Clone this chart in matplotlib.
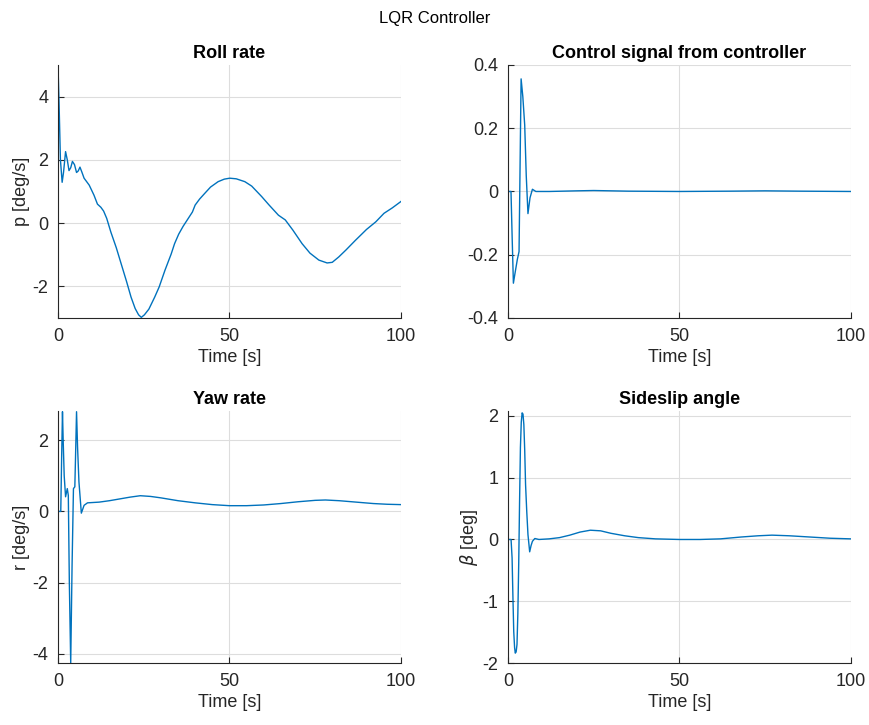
import numpy as np
import matplotlib.pyplot as plt

plt.rcParams['font.family'] = ['Liberation Sans', 'DejaVu Sans']
plt.rcParams['mathtext.fontset'] = 'dejavusans'

# roll rate p [deg/s]
t_p = [0, 0.3, 0.7, 1.2, 1.6, 2.2, 2.7, 3.2, 3.7, 4.2, 4.8, 5.4, 5.9, 6.4, 7.0, 7.6,
       9.1, 10.5, 11.5, 12.5, 13.3, 14.2, 15.4, 17.0, 18.4, 20.0, 21.3, 22.5, 23.5,
       24.3, 25.2, 26.5, 28.2, 29.5, 31.2, 33.0, 34.0, 35.2, 36.5, 38.0, 39.2, 40.0,
       41.3, 42.8, 44.5, 46.7, 48.5, 50.1, 52.0, 54.5, 56.5, 59.4, 61.5, 64.3, 66.3,
       68.5, 71.2, 73.5, 76.1, 78.5, 80.0, 81.9, 84.0, 86.8, 88.5, 90.0, 92.7, 95.1,
       97.5, 100]
p = [4.95, 3.8, 2.0, 1.29, 1.6, 2.26, 2.0, 1.66, 1.75, 1.95, 1.85, 1.6, 1.65, 1.77,
     1.6, 1.42, 1.2, 0.88, 0.6, 0.5, 0.38, 0.15, -0.28, -0.78, -1.28, -1.85, -2.34,
     -2.7, -2.9, -2.98, -2.9, -2.72, -2.34, -2.02, -1.49, -0.98, -0.65, -0.35, -0.1,
     0.15, 0.35, 0.57, 0.76, 0.94, 1.14, 1.31, 1.39, 1.42, 1.4, 1.31, 1.17, 0.84,
     0.58, 0.25, 0.1, -0.22, -0.65, -0.95, -1.17, -1.26, -1.24, -1.07, -0.85, -0.54,
     -0.36, -0.2, 0.04, 0.31, 0.48, 0.68]

# control signal
t_u = [0, 0.85, 1.2, 1.55, 2.0, 2.7, 3.2, 3.8, 4.3, 4.85, 5.3, 5.8, 6.4, 7.1, 8.1,
       12, 20, 25, 35, 50, 65, 75, 85, 100]
u = [0, 0, -0.15, -0.29, -0.26, -0.215, -0.19, 0.356, 0.30, 0.21, 0.05, -0.07,
     -0.02, 0.007, 0.0, 0.0, 0.002, 0.003, 0.001, 0.0, 0.001, 0.002, 0.001, 0.0]

# yaw rate r [deg/s]
t_r = [0, 0.8, 1.05, 1.3, 1.5, 1.8, 2.2, 2.7, 3.0, 3.3, 3.7, 4.1, 4.5, 4.9, 5.1,
       5.4, 5.7, 6.1, 6.8, 7.6, 8.6, 12, 15, 18, 21, 24, 27, 30, 35, 40, 45, 50, 55,
       60, 65, 70, 75, 78, 82, 87, 92, 96, 100]
r = [0, 0, 1.5, 2.8, 2.0, 1.0, 0.41, 0.64, 0.45, -2.0, -4.26, -1.5, 0.64, 0.69, 1.5,
     2.8, 1.8, 0.83, -0.05, 0.17, 0.24, 0.26, 0.3, 0.35, 0.4, 0.44, 0.42, 0.38, 0.3,
     0.24, 0.19, 0.16, 0.16, 0.18, 0.22, 0.27, 0.31, 0.32, 0.3, 0.26, 0.22, 0.2, 0.19]

# sideslip angle beta [deg]
t_b = [0, 0.87, 1.17, 1.4, 1.65, 1.9, 2.1, 2.35, 2.6, 2.85, 3.1, 3.35, 3.6, 3.85,
       4.1, 4.35, 4.6, 4.85, 5.1, 5.45, 5.8, 6.3, 6.7, 7.1, 7.8, 9, 12, 15, 18, 21,
       24, 27, 30, 34, 38, 43, 50, 56, 62, 68, 73, 77, 82, 88, 94, 100]
beta = [0, 0, -0.3, -0.9, -1.49, -1.75, -1.84, -1.82, -1.7, -1.2, -0.4, 0.6, 1.49,
        1.9, 2.05, 2.03, 1.86, 1.45, 0.89, 0.45, 0.08, -0.2, -0.1, -0.03, 0.016, 0.0,
        0.01, 0.03, 0.07, 0.12, 0.15, 0.14, 0.1, 0.06, 0.03, 0.01, 0.0, 0.0, 0.01,
        0.04, 0.06, 0.07, 0.06, 0.04, 0.02, 0.01]

series = [
    (t_p, p, 'Roll rate', 'p [deg/s]', (-3, 5), [-2, 0, 2, 4], ['-2', '0', '2', '4']),
    (t_u, u, 'Control signal from controller', '', (-0.4, 0.4),
     [-0.4, -0.2, 0, 0.2, 0.4], ['-0.4', '-0.2', '0', '0.2', '0.4']),
    (t_r, r, 'Yaw rate', 'r [deg/s]', (-4.26, 2.82), [-4, -2, 0, 2], ['-4', '-2', '0', '2']),
    (t_b, beta, 'Sideslip angle', r'$\beta$ [deg]', (-2, 2.08), [-2, -1, 0, 1, 2],
     ['-2', '-1', '0', '1', '2']),
]

fig = plt.figure(figsize=(8.7, 7.25), dpi=100)
fig.suptitle('LQR Controller', y=0.985, fontsize=12)

pos = [[0.0667, 0.5614, 0.394, 0.349], [0.584, 0.5614, 0.394, 0.349],
       [0.0667, 0.0855, 0.394, 0.3476], [0.584, 0.0855, 0.394, 0.3476]]
col = '#262626'
for i, (x, y, title, ylab, ylim, yt, ytl) in enumerate(series):
    ax = fig.add_axes(pos[i])
    ax.plot(x, y, color='#0072BD', lw=1.0)
    ax.set_xlim(0, 100)
    ax.set_ylim(*ylim)
    ax.set_xticks([0, 50, 100])
    ax.set_yticks(yt)
    ax.set_yticklabels(ytl)
    ax.grid(True, color='#dddddd', lw=0.8)
    ax.set_axisbelow(True)
    ax.spines['top'].set_visible(False)
    ax.spines['right'].set_visible(False)
    for s in ['left', 'bottom']:
        ax.spines[s].set_color(col)
        ax.spines[s].set_linewidth(0.8)
    ax.tick_params(direction='in', length=4, colors=col, labelsize=13, pad=7)
    ax.set_title(title, fontsize=13, fontweight='bold', pad=5)
    ax.set_xlabel('Time [s]', fontsize=13, color=col, labelpad=3)
    if ylab:
        ax.set_ylabel(ylab, fontsize=13, color=col, labelpad=2)

fig.savefig('out.png', dpi=100)
